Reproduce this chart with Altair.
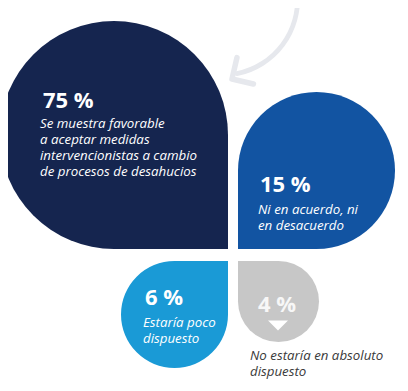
import altair as alt
import pandas as pd

# ---- data ----
categories = ["favorable", "neutral", "poco", "nada"]
values = [75, 15, 6, 4]
pct_labels = ["75 %", "15 %", "6 %", "4 %"]
descriptions = [
    ["Se muestra favorable", "a aceptar medidas", "intervencionistas a cambio", "de procesos de desahucios"],
    ["Ni en acuerdo, ni", "en desacuerdo"],
    ["Estaría poco", "dispuesto"],
    ["No estaría en absoluto", "dispuesto"],
]

# ---- style / layout ----
colors = ["#15254f", "#1254a2", "#1a9ad6", "#c7c7c7"]
desc_colors = ["#ffffff", "#ffffff", "#ffffff", "#3a3a3a"]
head_colors = ["#ffffff", "#ffffff", "#ffffff", "#f7f7f7"]
W, H = 392, 375
OX, OY = 8, 8
CX, CY = 233, 255
GX, GY = 5, 6
quadrant = [(-1, -1), (1, -1), (-1, 1), (1, 1)]
size_domain = [4, 6, 15, 75]
size_range = [40.5, 53.5, 78.5, 114]
head_off = [(-71, -27), (-56.5, 21.5), (-29.5, -9.5), (-20.5, 10.5)]
desc_off = [(-74, -7), (-58.5, 43.5), (-31.5, 12.5), (-28.5, 58.5)]
LINE_H = 16


def radius_of(v):
    for i in range(len(size_domain) - 1):
        a, b = size_domain[i], size_domain[i + 1]
        if a <= v <= b:
            t = (v - a) / (b - a)
            return size_range[i] + t * (size_range[i + 1] - size_range[i])
    return size_range[-1]


rows, texts = [], []
for i, (cat, v) in enumerate(zip(categories, values)):
    dx, dy = quadrant[i]
    r = radius_of(v)
    cx = CX + dx * (GX + r)
    cy = CY + dy * (GY + r)
    rows.append(dict(cat=cat, value=v, r=r, s=4 * r * r, cx=cx, cy=cy,
                     x1=cx, x2=cx - dx * r, y1=cy, y2=cy - dy * r, color=colors[i]))
    hx, hy = head_off[i]
    texts.append(dict(kind="head", x=cx + hx, y=cy + hy, text=pct_labels[i], color=head_colors[i]))
    ox, oy = desc_off[i]
    for j, line in enumerate(descriptions[i]):
        texts.append(dict(kind="desc", x=cx + ox, y=cy + oy + j * LINE_H, text=line, color=desc_colors[i]))

petals = pd.DataFrame(rows)
tx = pd.DataFrame(texts)

xs = alt.Scale(domain=[OX, OX + W], nice=False, zero=False)
ys = alt.Scale(domain=[OY, OY + H], nice=False, zero=False, reverse=True)
X = lambda f: alt.X(f, scale=xs, axis=None)
Y = lambda f: alt.Y(f, scale=ys, axis=None)

circles = alt.Chart(petals).mark_point(filled=True, shape="circle", opacity=1, strokeWidth=0).encode(
    x=X("cx:Q"), y=Y("cy:Q"),
    size=alt.Size("s:Q", scale=None, legend=None),
    color=alt.Color("color:N", scale=None),
)
corners = alt.Chart(petals).mark_rect().encode(
    x=X("x1:Q"), x2="x2:Q", y=Y("y1:Q"), y2="y2:Q",
    color=alt.Color("color:N", scale=None),
)

# decorative arrow
arrow_df = pd.DataFrame({"ax": [222], "ay": [-0.5], "tx": [232], "ty": [79]})
shaft = alt.Chart(arrow_df).mark_arc(color="#e6e8ed", cornerRadius=2).encode(
    x=X("ax:Q"), y=Y("ay:Q"),
    theta=alt.value(1.45), theta2=alt.value(2.97),
    radius=alt.value(78), radius2=alt.value(73.2),
)
head = alt.Chart(arrow_df).mark_point(
    shape="M0,-1L0,0L1,0", filled=False, stroke="#e6e8ed", strokeWidth=5.5,
    strokeCap="round", strokeJoin="round", angle=13, size=1936, opacity=1,
).encode(x=X("tx:Q"), y=Y("ty:Q"))

# small down triangle in grey petal
tri_df = pd.DataFrame({"x": [petals.cx[3] - 0.5], "y": [petals.cy[3] + 24]})
tri = alt.Chart(tri_df).mark_point(
    shape="M-1,-0.5L1,-0.5L0,0.5Z", filled=True, color="#ffffff", size=400, opacity=1, strokeWidth=0,
).encode(x=X("x:Q"), y=Y("y:Q"))

heads = alt.Chart(tx[tx.kind == "head"]).mark_text(
    align="left", baseline="alphabetic", font="Open Sans", fontSize=22, fontWeight="bold",
).encode(x=X("x:Q"), y=Y("y:Q"), text="text:N", color=alt.Color("color:N", scale=None))
descs = alt.Chart(tx[tx.kind == "desc"]).mark_text(
    align="left", baseline="alphabetic", font="Open Sans", fontSize=13.3, fontStyle="italic",
).encode(x=X("x:Q"), y=Y("y:Q"), text="text:N", color=alt.Color("color:N", scale=None))

chart = alt.layer(shaft, head, circles, corners, tri, heads, descs).properties(
    width=W, height=H, autosize="none", padding=0,
).configure_view(stroke=None)

chart.save("out.html", embed_options={"renderer": "svg", "actions": False})
